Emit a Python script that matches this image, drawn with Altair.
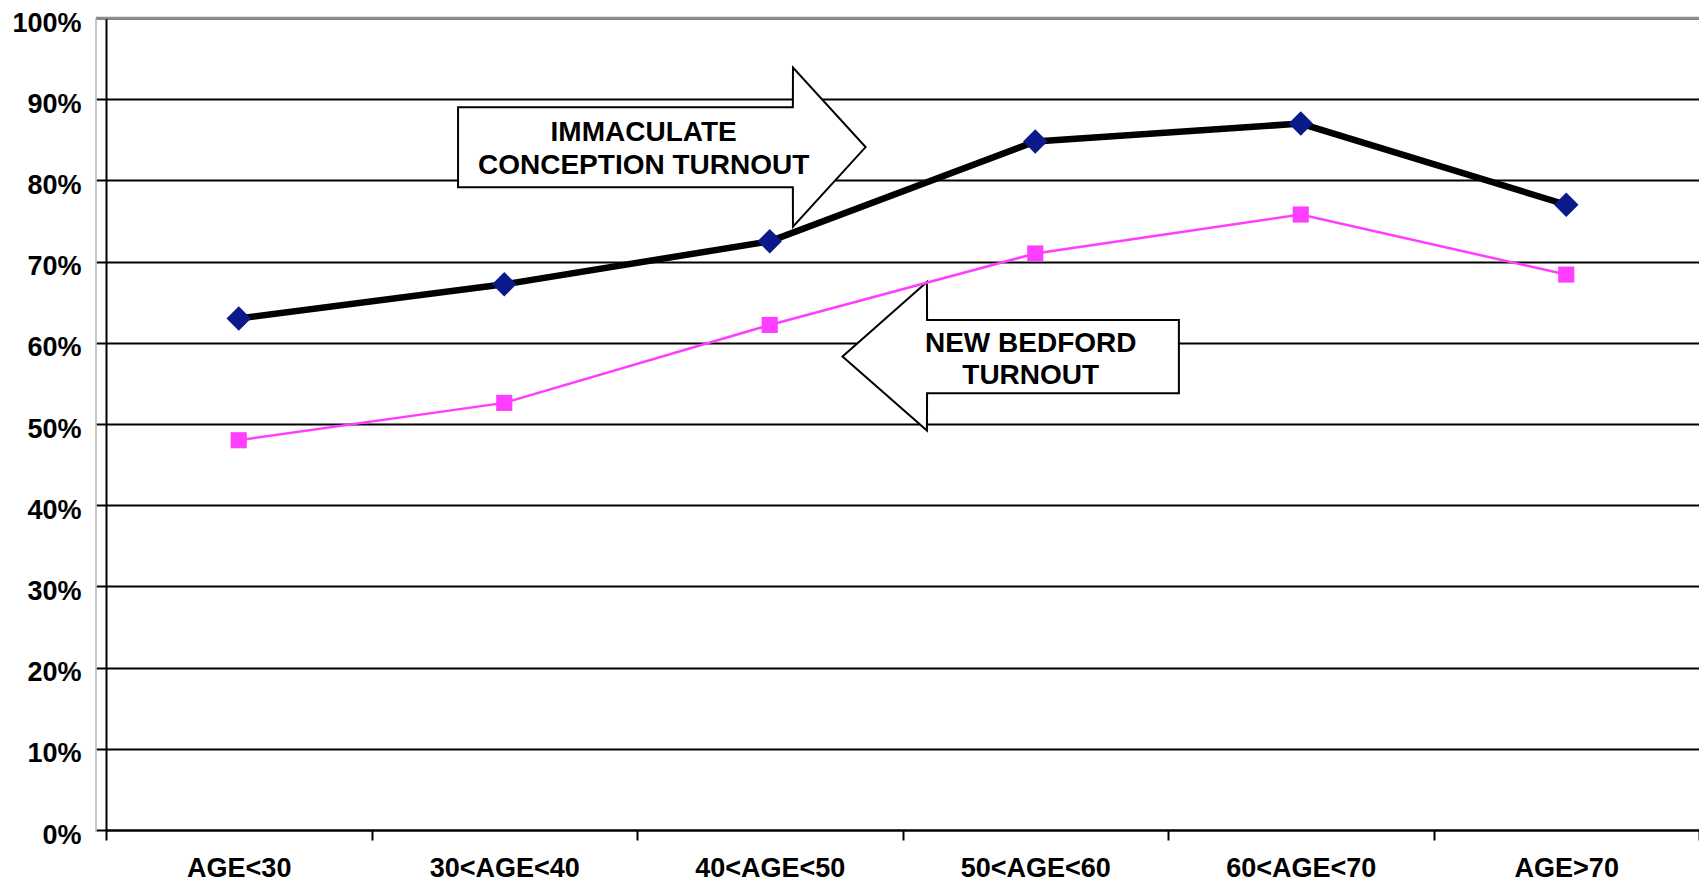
import altair as alt
import pandas as pd

# ---- data ----
categories = ["AGE<30", "30<AGE<40", "40<AGE<50", "50<AGE<60", "60<AGE<70", "AGE>70"]
immaculate = [0.630, 0.672, 0.725, 0.848, 0.870, 0.770]
new_bedford = [0.480, 0.526, 0.622, 0.710, 0.758, 0.684]
y_ticks = [0.0, 0.1, 0.2, 0.3, 0.4, 0.5, 0.6, 0.7, 0.8, 0.9, 1.0]

# annotation block arrows, in data units (x: band index 0..6, y: share 0..1)
ic_arrow_x = [1.326, 2.587, 2.5875, 2.861]
ic_arrow_top = [0.890, 0.890, 0.939, 0.841]
ic_arrow_bottom = [0.7915, 0.7915, 0.743, 0.841]
nb_arrow_x = [2.774, 3.092, 3.0925, 4.041]
nb_arrow_top = [0.583, 0.675, 0.628, 0.628]
nb_arrow_bottom = [0.583, 0.492, 0.538, 0.538]
label_x = [2.025, 2.025, 3.483, 3.483]
label_y = [0.849, 0.808, 0.589, 0.549]
label_text = ["IMMACULATE", "CONCEPTION TURNOUT", "NEW BEDFORD", "TURNOUT"]

W = 1593
H = 812
FONT = "Liberation Sans"

ic = pd.DataFrame({"age": categories, "share": immaculate})
nb = pd.DataFrame({"age": categories, "share": new_bedford})
ic_arrow = pd.DataFrame({"x": ic_arrow_x, "top": ic_arrow_top, "bottom": ic_arrow_bottom})
nb_arrow = pd.DataFrame({"x": nb_arrow_x, "top": nb_arrow_top, "bottom": nb_arrow_bottom})
labels = pd.DataFrame({"x": label_x, "y": label_y, "label": label_text})

y_axis = alt.Axis(
    title=None,
    values=y_ticks,
    format=".0%",
    labelFont=FONT,
    labelFontSize=27,
    labelFontWeight="bold",
    labelColor="black",
    labelPadding=15,
    labelBaseline="middle",
    labelOffset=5,
    tickSize=10,
    tickWidth=2,
    tickColor="black",
    domainColor="black",
    domainWidth=2,
    grid=True,
    gridWidth=2,
    gridColor="black",
)
y_scale = alt.Scale(domain=[0, 1], nice=False)

x_enc = alt.X(
    "age:N",
    sort=categories,
    bandPosition=0.5,
    scale=alt.Scale(type="band", paddingInner=0, paddingOuter=0),
    axis=alt.Axis(
        title=None,
        tickBand="extent",
        labelAngle=0,
        labelFont=FONT,
        labelFontSize=27,
        labelFontWeight="bold",
        labelColor="black",
        labelPadding=15,
        labelOverlap=False,
        tickSize=10,
        tickWidth=2,
        tickColor="black",
        domainColor="black",
        domainWidth=2,
        grid=False,
    ),
)
y_enc = alt.Y("share:Q", scale=y_scale, axis=y_axis)

nb_line = alt.Chart(nb).mark_line(color="#ff3dff", strokeWidth=2.5).encode(x=x_enc, y=y_enc)
nb_pts = alt.Chart(nb).mark_point(shape="square", filled=True, size=260, color="#ff3dff", opacity=1).encode(x=x_enc, y=y_enc)
ic_line = alt.Chart(ic).mark_line(color="black", strokeWidth=6.5).encode(x=x_enc, y=y_enc)
ic_pts = alt.Chart(ic).mark_point(shape="diamond", filled=True, size=600, color="#0a1a8a", opacity=1).encode(x=x_enc, y=y_enc)

data_layer = alt.layer(nb_line, nb_pts, ic_line, ic_pts)

ax = alt.X("x:Q", scale=alt.Scale(domain=[0, 6], nice=False, zero=False), axis=None)

one = pd.DataFrame({"a": [0]})
frame_left = alt.Chart(one).mark_rule(color="#b4b4b4", strokeWidth=1.5).encode(
    x=alt.value(-10), y=alt.value(0), y2=alt.value(H + 2)
)
frame_top = alt.Chart(one).mark_rule(color="#8c8c8c", strokeWidth=2.5).encode(
    x=alt.value(-10), x2=alt.value(W), y=alt.value(0)
)

def arrow(df):
    return alt.Chart(df).mark_area(
        fill="white", stroke="black", strokeWidth=2, opacity=1, fillOpacity=1, interpolate="linear"
    ).encode(
        x=ax,
        y=alt.Y("top:Q", scale=y_scale, axis=y_axis),
        y2="bottom:Q",
    )

arrow_text = alt.Chart(labels).mark_text(
    font=FONT, fontSize=28, fontWeight="bold", color="black", align="center", baseline="alphabetic"
).encode(
    x=ax,
    y=alt.Y("y:Q", scale=y_scale, axis=y_axis),
    text="label:N",
)
annot_layer = alt.layer(frame_left, frame_top, arrow(ic_arrow), arrow(nb_arrow), arrow_text)

chart = (
    alt.layer(annot_layer, data_layer)
    .resolve_scale(x="independent")
    .properties(
        width=W,
        height=H,
        autosize=alt.AutoSizeParams(type="none"),
        padding={"left": 98, "top": 10, "right": 0, "bottom": 52},
    )
    .configure_view(stroke=None)
)

chart.save("out.html", embed_options={"renderer": "svg", "actions": False})
